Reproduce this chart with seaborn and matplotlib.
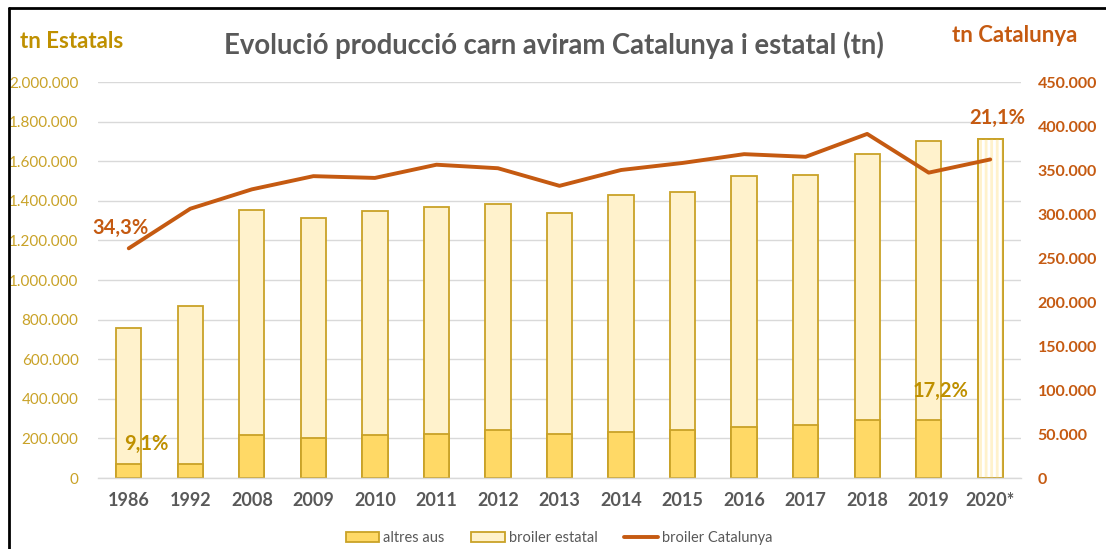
import matplotlib
matplotlib.use("Agg")
import matplotlib.pyplot as plt
import matplotlib.ticker as mticker
from matplotlib.patches import Patch, Rectangle
from matplotlib.lines import Line2D
import seaborn as sns
import numpy as np
import pandas as pd

years = ["1986", "1992", "2008", "2009", "2010", "2011", "2012", "2013",
         "2014", "2015", "2016", "2017", "2018", "2019", "2020*"]
altres_aus = [69000, 69000, 217000, 202000, 217000, 222000, 242000, 222000,
              232000, 242000, 258000, 268000, 293000, 293000, 0]
broiler_estatal = [688000, 800000, 1137000, 1111000, 1131000, 1147000, 1142000, 1116000,
                   1197000, 1202000, 1267000, 1262000, 1343000, 1409000, 1712000]
broiler_catalunya = [261000, 306000, 328000, 343000, 341000, 356000, 352000, 332000,
                     350000, 358000, 368000, 365000, 391000, 347000, 362000]
left_ticks = list(range(0, 2000001, 200000))
right_ticks = list(range(0, 450001, 50000))

GOLD = "#BF9000"
TICKGOLD = "#C9A227"
EDGE = "#C9A227"
C_ALT = "#FFD966"
C_BRO = "#FFF2CC"
ORANGE = "#C55A11"
GRAY = "#595959"
GRID = "#D9D9D9"

sns.set_theme(style="white")
plt.rcParams["font.family"] = ["Lato", "DejaVu Sans"]
plt.rcParams["hatch.linewidth"] = 2.0

df = pd.DataFrame({"year": years, "altres": altres_aus, "broiler": broiler_estatal,
                   "cat": broiler_catalunya})
df["total"] = df["altres"] + df["broiler"]

fig = plt.figure(figsize=(11.06, 5.49), dpi=100)
ax = fig.add_axes([98/1106, 1-478/549, (1021-98)/1106, (478-82)/549])

sns.barplot(data=df, x="year", y="total", ax=ax, color=C_BRO, width=0.41,
            edgecolor=EDGE, linewidth=1.3, saturation=1)
sns.barplot(data=df, x="year", y="altres", ax=ax, color=C_ALT, width=0.41,
            edgecolor=EDGE, linewidth=1.3, saturation=1)

# hatched 2020 bar: white face with light-yellow vertical stripes
p2020 = ax.patches[len(years) - 1]
p2020.set_facecolor("white")
hatch_overlay = Rectangle(p2020.get_xy(), p2020.get_width(), p2020.get_height(),
                          facecolor="none", edgecolor=C_BRO, linewidth=0, hatch="|||",
                          zorder=p2020.get_zorder() + 0.01)
ax.add_patch(hatch_overlay)
frame2020 = Rectangle(p2020.get_xy(), p2020.get_width(), p2020.get_height(),
                      facecolor="none", edgecolor=EDGE, linewidth=1.3,
                      zorder=p2020.get_zorder() + 0.02)
ax.add_patch(frame2020)

ax.set_ylim(0, 2000000)
ax.set_xlim(-0.5, len(years) - 0.5)
ax.set_yticks(left_ticks)
ax.yaxis.set_major_formatter(mticker.FuncFormatter(lambda v, p: f"{int(v):,}".replace(",", ".")))
ax.yaxis.grid(True, color=GRID, linewidth=1)
ax.set_axisbelow(True)
for s in ["top", "right", "left"]:
    ax.spines[s].set_visible(False)
ax.spines["bottom"].set_color(GRID)
ax.spines["bottom"].set_linewidth(1)
ax.set_xlabel("")
ax.set_ylabel("")
ax.tick_params(axis="y", colors=TICKGOLD, labelsize=11, length=0, pad=14)
ax.tick_params(axis="x", colors=GRAY, labelsize=13, length=0, pad=10)
for t in ax.get_xticklabels():
    t.set_fontweight("bold")

ax2 = ax.twinx()
sns.lineplot(x=np.arange(len(years)), y=df["cat"], ax=ax2, color=ORANGE,
             linewidth=2.8, solid_capstyle="round")
ax2.set_ylim(0, 450000)
ax2.set_yticks(right_ticks)
ax2.yaxis.set_major_formatter(mticker.FuncFormatter(lambda v, p: f"{int(v):,}".replace(",", ".")))
ax2.tick_params(axis="y", colors=ORANGE, labelsize=11.5, length=0, pad=12)
for t in ax2.get_yticklabels():
    t.set_fontweight("bold")
for s in ax2.spines.values():
    s.set_visible(False)
ax2.set_ylabel("")
ax.set_xlim(-0.5, len(years) - 0.5)

# data labels
ax2.text(-0.14, 284000, "34,3%", color=ORANGE, fontsize=14.5,
         fontweight="bold", ha="center", va="center")
ax2.text(14.12, 409000, "21,1%", color=ORANGE,
         fontsize=14.5, fontweight="bold", ha="center", va="center")
ax.text(0.28, 172000, "9,1%", color=GOLD, fontsize=14.5,
        fontweight="bold", ha="center", va="center")
ax.text(13.2, 440000, "17,2%", color=GOLD, fontsize=14.5,
        fontweight="bold", ha="center", va="center")

# titles
fig.text(554/1106, 1-45/549, "Evolució producció carn aviram Catalunya i estatal (tn)",
         color=GRAY, fontsize=19.8, fontweight="bold", ha="center", va="center")
fig.text(20/1106, 1-41/549, "tn Estatals", color=GOLD, fontsize=16, fontweight="bold",
         ha="left", va="center")
fig.text(1077/1106, 1-36/549, "tn Catalunya", color=ORANGE, fontsize=16, fontweight="bold",
         ha="right", va="center")

# legend
handles = [Patch(facecolor=C_ALT, edgecolor=EDGE, linewidth=1.3, label="altres aus"),
           Patch(facecolor=C_BRO, edgecolor=EDGE, linewidth=1.3, label="broiler estatal"),
           Line2D([0], [0], color=ORANGE, linewidth=2.8, label="broiler Catalunya")]
fig.legend(handles=handles, loc="center", bbox_to_anchor=(559/1106, 1-538/549), ncol=3,
           frameon=False, fontsize=10.5, labelcolor=GRAY, handlelength=2.3, handleheight=0.7,
           columnspacing=1.8, handletextpad=0.3)

# frame
fig.add_artist(Line2D([9/1106, 9/1106], [0, 1-8/549], color="black", linewidth=2,
                      transform=fig.transFigure))
fig.add_artist(Line2D([9/1106, 1], [1-8/549, 1-8/549], color="black", linewidth=2,
                      transform=fig.transFigure))

fig.savefig("out.png", dpi=100)
